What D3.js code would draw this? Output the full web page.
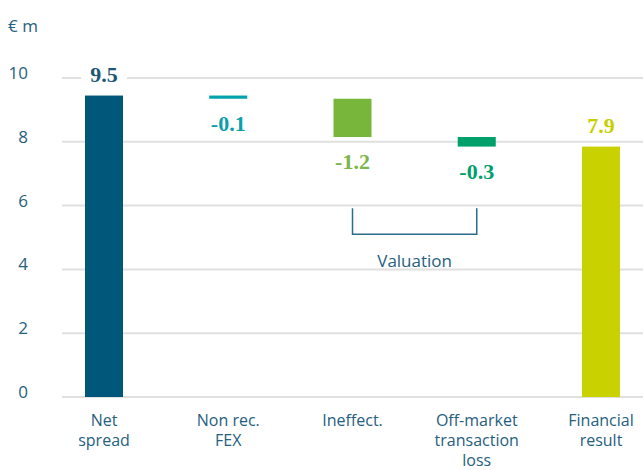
<!DOCTYPE html>
<html>
<head>
<meta charset="utf-8">
<script src="https://cdn.jsdelivr.net/npm/d3@7"></script>
<style>
  body { margin: 0; background: #fff; }
  text { font-family: "Open Sans", sans-serif; }
</style>
</head>
<body>
<div id="chart-area"></div>
<script>

// Data
var categories = [["Net", "spread"], ["Non rec.", "FEX"], ["Ineffect."], ["Off-market", "transaction", "loss"], ["Financial", "result"]];
var startValue = 9.45;
var deltas = [-0.1, -1.2, -0.3];
var valueLabels = ["9.5", "-0.1", "-1.2", "-0.3", "7.9"];
var barColors = ["#00577a", "#00a2ab", "#78b63b", "#00a06a", "#c9d200"];
var labelColors = ["#1b5777", "#0aa0aa", "#7ab648", "#00a06a", "#c6cf00"];
var yTicks = [0, 2, 4, 6, 8, 10];

var width = 643, height = 470;
var textColor = "#26607e";

var svg = d3.select("#chart-area").append("svg")
    .attr("width", width)
    .attr("height", height);

// build waterfall rows
var rows = [];
var running = startValue;
rows.push({ key: 0, lo: 0, hi: startValue, total: true });
deltas.forEach(function(d, i) {
  var next = running + d;
  rows.push({ key: i + 1, lo: Math.min(running, next), hi: Math.max(running, next), total: false });
  running = next;
});
rows.push({ key: 4, lo: 0, hi: running, total: true });

// Scales
var x = d3.scalePoint()
    .domain(d3.range(categories.length))
    .range([104, 601]);

var y = d3.scaleLinear()
    .domain([0, 10])
    .range([397, 78]);

var barWidth = 38;

// grid
svg.append("g").selectAll("line")
    .data(yTicks)
  .enter().append("line")
    .attr("x1", 62)
    .attr("x2", width)
    .attr("y1", function(d) { return y(d); })
    .attr("y2", function(d) { return y(d); })
    .attr("stroke", "#e0e0e0")
    .attr("stroke-width", 2);

// y tick labels
svg.append("g").selectAll("text")
    .data(yTicks)
  .enter().append("text")
    .attr("x", 28)
    .attr("y", function(d) { return y(d) + 1; })
    .attr("text-anchor", "end")
    .attr("font-size", 17)
    .attr("fill", textColor)
    .text(function(d) { return d; });

svg.append("text")
    .attr("x", 8)
    .attr("y", 32)
    .attr("font-size", 17)
    .attr("fill", textColor)
    .text("€ m");

// bars
svg.append("g").selectAll("rect")
    .data(rows)
  .enter().append("rect")
    .attr("x", function(d) { return x(d.key) - barWidth / 2; })
    .attr("width", barWidth)
    .attr("y", function(d) { return y(d.hi); })
    .attr("height", function(d) { return y(d.lo) - y(d.hi); })
    .attr("fill", function(d, i) { return barColors[i]; });

// value labels
var labels = svg.append("g").selectAll("g")
    .data(rows)
  .enter().append("g")
    .attr("transform", function(d) {
      var ty = d.total ? y(d.hi) - 14 : y(d.lo) + 32;
      return "translate(" + x(d.key) + "," + ty + ")";
    });

// white box behind the first total so the grid breaks around it
labels.filter(function(d) { return d.key == 0; })
  .append("rect")
    .attr("x", -23)
    .attr("y", -18)
    .attr("width", 46)
    .attr("height", 24)
    .attr("fill", "#fff");

labels.append("text")
    .attr("text-anchor", "middle")
    .style("font-family", "'Liberation Serif', serif")
    .attr("font-weight", "bold")
    .attr("font-size", 22)
    .attr("fill", function(d, i) { return labelColors[i]; })
    .text(function(d, i) { return valueLabels[i]; });

// category labels
var cat = svg.append("g").selectAll("text")
    .data(categories)
  .enter().append("text")
    .attr("text-anchor", "middle")
    .attr("font-size", 16)
    .attr("fill", textColor)
    .attr("transform", function(d, i) { return "translate(" + x(i) + ",426)"; });

cat.selectAll("tspan")
    .data(function(d) { return d; })
  .enter().append("tspan")
    .attr("x", 0)
    .attr("y", function(d, i) { return i * 20; })
    .text(function(d) { return d; });

// Valuation bracket
var bTop = y(5.92), bBottom = y(5.1);
svg.append("path")
    .attr("d", "M" + x(2) + "," + bTop + "V" + bBottom + "H" + x(3) + "V" + bTop)
    .attr("fill", "none")
    .attr("stroke", "#2b6c8c")
    .attr("stroke-width", 1.5);

svg.append("text")
    .attr("x", (x(2) + x(3)) / 2)
    .attr("y", 267)
    .attr("text-anchor", "middle")
    .attr("font-size", 17)
    .attr("fill", textColor)
    .text("Valuation");

</script>
</body>
</html>
